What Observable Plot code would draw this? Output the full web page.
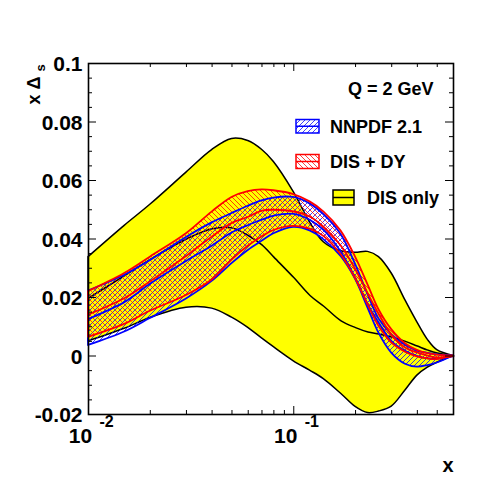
<!DOCTYPE html>
<html><head><meta charset="utf-8">
<script src="https://cdn.jsdelivr.net/npm/d3@7"></script>
<script src="https://cdn.jsdelivr.net/npm/@observablehq/plot@0.6"></script>
<style>body{margin:0;background:#fff;}</style>
</head><body><div id="chart"></div>
<script>
// ---- data ----
const xs      = [0.01, 0.015, 0.02, 0.03, 0.04, 0.05, 0.06, 0.07, 0.08, 0.1, 0.12, 0.14, 0.17, 0.2, 0.23, 0.26, 0.3, 0.35, 0.4, 0.45, 0.5, 0.6];
// DIS only (yellow band)
const disHigh = [0.0338, 0.0445, 0.0517, 0.0627, 0.0704, 0.0742, 0.0735, 0.0705, 0.0663, 0.0560, 0.0457, 0.0389, 0.0358, 0.0353, 0.0356, 0.0338, 0.0282, 0.0190, 0.0115, 0.0055, 0.0020, 0];
const disCen  = [0.0198, 0.0275, 0.0330, 0.0400, 0.0435, 0.0438, 0.0412, 0.0380, 0.0338, 0.0268, 0.0207, 0.0170, 0.0120, 0.0097, 0.0082, 0.0075, 0.0065, 0.0050, 0.0034, 0.0020, 0.0010, 0];
const disLow  = [0.0050, 0.0093, 0.0130, 0.0165, 0.0162, 0.0131, 0.0096, 0.0060, 0.0030, -0.0018, -0.0050, -0.0079, -0.0129, -0.0174, -0.0195, -0.0190, -0.0173, -0.0118, -0.0067, -0.0040, -0.0023, 0];
// NNPDF 2.1 (blue hatched band)
const nnHigh  = [0.0222, 0.0276, 0.0326, 0.0405, 0.0455, 0.0487, 0.0512, 0.0530, 0.0540, 0.0542, 0.0520, 0.0483, 0.0415, 0.0313, 0.0210, 0.0127, 0.0073, 0.0037, 0.0017, 0.0009, 0.0004, 0];
const nnCen   = [0.0127, 0.0185, 0.0248, 0.0326, 0.0378, 0.0423, 0.0448, 0.0466, 0.0480, 0.0486, 0.0465, 0.0430, 0.0355, 0.0265, 0.0175, 0.0113, 0.0050, 0.0017, 0.0000, -0.0008, -0.0009, 0];
const nnLow   = [0.0036, 0.0082, 0.0128, 0.0195, 0.0255, 0.0316, 0.0361, 0.0392, 0.0418, 0.0440, 0.0428, 0.0398, 0.0340, 0.0262, 0.0164, 0.0078, 0.0010, -0.0028, -0.0038, -0.0033, -0.0024, 0];
// DIS + DY (red hatched band)
const dyHigh  = [0.0220, 0.0282, 0.0338, 0.0418, 0.0492, 0.0542, 0.0562, 0.0568, 0.0565, 0.0552, 0.0527, 0.0493, 0.0427, 0.0338, 0.0243, 0.0158, 0.0090, 0.0042, 0.0019, 0.0008, 0.0003, 0];
const dyCen   = [0.0142, 0.0198, 0.0256, 0.0343, 0.0409, 0.0455, 0.0476, 0.0497, 0.0500, 0.0494, 0.0476, 0.0441, 0.0376, 0.0295, 0.0212, 0.0142, 0.0072, 0.0028, 0.0012, 0.0001, -0.0005, 0];
const dyLow   = [0.0064, 0.0108, 0.0153, 0.0207, 0.0260, 0.0328, 0.0375, 0.0407, 0.0429, 0.0443, 0.0434, 0.0409, 0.0346, 0.0265, 0.0175, 0.0102, 0.0045, 0.0013, -0.0003, -0.0010, -0.0012, 0];

// ticks and labels
const yTicks      = [-0.02, 0, 0.02, 0.04, 0.06, 0.08, 0.1];
const yTickLabels = ["-0.02", "0", "0.02", "0.04", "0.06", "0.08", "0.1"];
const yMinor      = [-0.015, -0.01, -0.005, 0.005, 0.01, 0.015, 0.025, 0.03, 0.035, 0.045, 0.05, 0.055, 0.065, 0.07, 0.075, 0.085, 0.09, 0.095];
const xMajor      = [0.01, 0.1];
const xExponents  = ["-2", "-1"];
const xMinor      = [0.02, 0.03, 0.04, 0.05, 0.06, 0.07, 0.08, 0.09, 0.2, 0.3, 0.4, 0.5];
const legendNames = ["NNPDF 2.1", "DIS + DY", "DIS only"];
const annotation  = "Q = 2 GeV";
const xTitle = "x", yTitle = "x Δ", yTitleSub = "s";

const rows = xs.map((x, i) => ({x, disHigh: disHigh[i], disCen: disCen[i], disLow: disLow[i],
  nnHigh: nnHigh[i], nnCen: nnCen[i], nnLow: nnLow[i], dyHigh: dyHigh[i], dyCen: dyCen[i], dyLow: dyLow[i]}));

const W = 504, H = 504, mL = 88, mR = 51, mT = 63, mB = 90;
const pw = W - mL - mR, ph = H - mT - mB;
const FONT = "'Liberation Sans', Arial, Helvetica, sans-serif";
const curve = "catmull-rom";
const BLUE = "#0000ff", RED = "#ff0000", YEL = "#ffff00";

const svg = Plot.plot({
  width: W, height: H,
  marginLeft: mL, marginRight: mR, marginTop: mT, marginBottom: mB,
  style: {fontFamily: FONT, background: "white", color: "black"},
  x: {type: "log", domain: [0.01, 0.6], axis: null},
  y: {domain: [-0.02, 0.1], axis: null},
  marks: [
    Plot.areaY(rows, {x: "x", y1: "disLow", y2: "disHigh", fill: YEL, stroke: "black", strokeWidth: 1.5, curve}),
    Plot.lineY(rows, {x: "x", y: "disCen", stroke: "black", strokeWidth: 1.5, curve}),
    Plot.areaY(rows, {x: "x", y1: "nnLow", y2: "nnHigh", fill: "url(#hatchBlue)", curve}),
    Plot.areaY(rows, {x: "x", y1: "dyLow", y2: "dyHigh", fill: "url(#hatchRed)", curve}),
    Plot.areaY(rows, {x: "x", y1: "nnLow", y2: "nnHigh", fill: "none", stroke: BLUE, strokeWidth: 1.8, curve}),
    Plot.lineY(rows, {x: "x", y: "nnCen", stroke: BLUE, strokeWidth: 1.8, curve}),
    Plot.areaY(rows, {x: "x", y1: "dyLow", y2: "dyHigh", fill: "none", stroke: RED, strokeWidth: 1.8, curve}),
    Plot.lineY(rows, {x: "x", y: "dyCen", stroke: RED, strokeWidth: 1.8, curve}),
    // inward ticks on all four sides
    Plot.tickY(yTicks, {y: d => d, insetRight: pw - 8, stroke: "black"}),
    Plot.tickY(yTicks, {y: d => d, insetLeft: pw - 8, stroke: "black"}),
    Plot.tickY(yMinor, {y: d => d, insetRight: pw - 4, stroke: "black"}),
    Plot.tickY(yMinor, {y: d => d, insetLeft: pw - 4, stroke: "black"}),
    Plot.tickX(xMajor, {x: d => d, insetTop: ph - 8, stroke: "black"}),
    Plot.tickX(xMajor, {x: d => d, insetBottom: ph - 8, stroke: "black"}),
    Plot.tickX(xMinor, {x: d => d, insetTop: ph - 4, stroke: "black"}),
    Plot.tickX(xMinor, {x: d => d, insetBottom: ph - 4, stroke: "black"}),
    Plot.frame({stroke: "black", strokeWidth: 1.6}),
    // tick labels
    Plot.text(yTicks, {y: d => d, text: (d, i) => yTickLabels[i], frameAnchor: "left", textAnchor: "end", dx: -6, dy: 1, fontSize: 21, fontWeight: "bold"}),
    Plot.text(xMajor, {x: d => d, text: () => "10", frameAnchor: "bottom", dx: -8, dy: 28, fontSize: 21, fontWeight: "bold"}),
    Plot.text(xMajor, {x: d => d, text: (d, i) => xExponents[i], frameAnchor: "bottom", dx: 18, dy: 12, fontSize: 16, fontWeight: "bold"}),
    // axis titles
    Plot.text([xTitle], {frameAnchor: "bottom-right", textAnchor: "end", dy: 57, fontSize: 20, fontWeight: "bold"}),
    Plot.text([yTitle], {frameAnchor: "top-left", textAnchor: "middle", rotate: -90, dx: -61.5, dy: 27, fontSize: 18, fontWeight: "bold"}),
    Plot.text([yTitleSub], {frameAnchor: "top-left", textAnchor: "middle", rotate: -90, dx: -53, dy: 4.5, fontSize: 13, fontWeight: "bold"}),
    Plot.text([annotation], {frameAnchor: "top-right", textAnchor: "end", dx: -20, dy: 18.5, fontSize: 18, fontWeight: "bold"})
  ]
});

// hatch patterns
const root = d3.select(svg);
const defs = root.insert("defs", ":first-child");
function hatch(id, color, up) {
  const s = 5;
  const d = up
    ? `M0,${s}L${s},0M${-s/2},${s/2}L${s/2},${-s/2}M${s/2},${1.5*s}L${1.5*s},${s/2}`
    : `M0,0L${s},${s}M${-s/2},${s/2}L${s/2},${1.5*s}M${s/2},${-s/2}L${1.5*s},${s/2}`;
  defs.append("pattern").attr("id", id).attr("patternUnits", "userSpaceOnUse")
    .attr("width", s).attr("height", s)
    .append("path").attr("d", d).attr("stroke", color).attr("stroke-width", 0.75).attr("fill", "none");
}
hatch("hatchBlue", BLUE, true);
hatch("hatchRed", RED, false);

// legend
const leg = root.append("g").attr("font-family", FONT).attr("font-weight", "bold").attr("font-size", 18).attr("text-anchor", "start");
const entries = [
  {name: legendNames[0], x: 296, y: 119.5, w: 23, h: 13.5, tx: 330, bg: "white", fill: "url(#hatchBlue)", stroke: BLUE},
  {name: legendNames[1], x: 296, y: 154.5, w: 23, h: 14, tx: 330, bg: "white", fill: "url(#hatchRed)", stroke: RED},
  {name: legendNames[2], x: 333, y: 190, w: 21, h: 15, tx: 367, bg: YEL, fill: "none", stroke: "black"}
];
for (const e of entries) {
  leg.append("rect").attr("x", e.x).attr("y", e.y).attr("width", e.w).attr("height", e.h).attr("fill", e.bg);
  leg.append("rect").attr("x", e.x).attr("y", e.y).attr("width", e.w).attr("height", e.h)
    .attr("fill", e.fill).attr("stroke", e.stroke).attr("stroke-width", 1.5);
  leg.append("line").attr("x1", e.x).attr("x2", e.x + e.w).attr("y1", e.y + e.h / 2).attr("y2", e.y + e.h / 2)
    .attr("stroke", e.stroke).attr("stroke-width", 1.5);
  leg.append("text").attr("x", e.tx).attr("y", e.y + e.h / 2).attr("dy", "0.35em").attr("text-anchor", "start").text(e.name);
}

document.getElementById("chart").appendChild(svg);
</script>
</body></html>
